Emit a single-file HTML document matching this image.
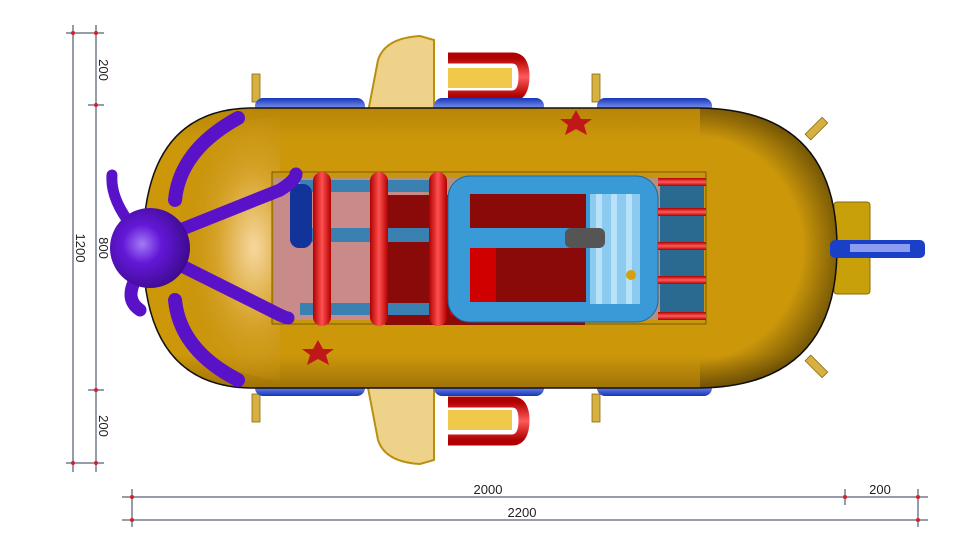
<!DOCTYPE html>
<html><head><meta charset="utf-8"><style>
html,body{margin:0;padding:0;background:#fff;}
svg{display:block;font-family:"Liberation Sans",sans-serif;}
</style></head><body>
<svg width="970" height="546" viewBox="0 0 970 546" xmlns="http://www.w3.org/2000/svg">
<defs>
<linearGradient id="gold" x1="0" y1="0" x2="0" y2="1">
<stop offset="0" stop-color="#b88508"/><stop offset="0.12" stop-color="#cc980a"/><stop offset="0.88" stop-color="#cc980a"/><stop offset="1" stop-color="#a07208"/></linearGradient>
<radialGradient id="rightShade" gradientUnits="userSpaceOnUse" cx="690" cy="248" r="150"><stop offset="0.75" stop-color="#000" stop-opacity="0"/><stop offset="1" stop-color="#000" stop-opacity="0.4"/></radialGradient>
<radialGradient id="goldL" cx="0.8" cy="0.5" r="0.6"><stop offset="0" stop-color="#f6d7a0"/><stop offset="0.45" stop-color="#d8a52e"/><stop offset="1" stop-color="#c08a08" stop-opacity="0"/></radialGradient>
<linearGradient id="blueT" x1="0" y1="0" x2="0" y2="1"><stop offset="0" stop-color="#1436b8"/><stop offset="0.5" stop-color="#7a8ff0"/><stop offset="1" stop-color="#1436b8"/></linearGradient>
<linearGradient id="red" x1="0" y1="0" x2="1" y2="0"><stop offset="0" stop-color="#b00000"/><stop offset="0.5" stop-color="#ff5050"/><stop offset="1" stop-color="#b00000"/></linearGradient>
<linearGradient id="redH" x1="0" y1="0" x2="0" y2="1"><stop offset="0" stop-color="#b00000"/><stop offset="0.5" stop-color="#ff5a5a"/><stop offset="1" stop-color="#b00000"/></linearGradient>
<radialGradient id="purp" cx="0.4" cy="0.45" r="0.6"><stop offset="0" stop-color="#a27bf5"/><stop offset="0.4" stop-color="#6418d8"/><stop offset="1" stop-color="#3e0a90"/></radialGradient>
</defs>
<g stroke="#2d3a55" stroke-width="1">
<line x1="73" y1="25" x2="73" y2="472"/><line x1="96" y1="25" x2="96" y2="472"/>
<line x1="66" y1="33" x2="104" y2="33"/><line x1="88" y1="105" x2="104" y2="105"/>
<line x1="88" y1="390" x2="104" y2="390"/><line x1="66" y1="463" x2="104" y2="463"/>
<line x1="122" y1="497" x2="928" y2="497"/><line x1="122" y1="520" x2="928" y2="520"/>
<line x1="132" y1="489" x2="132" y2="527"/><line x1="845" y1="489" x2="845" y2="505"/><line x1="918" y1="489" x2="918" y2="527"/>
</g>
<g fill="#d0202a">
<circle cx="73" cy="33" r="2"/><circle cx="96" cy="33" r="2"/><circle cx="96" cy="105" r="2"/><circle cx="96" cy="390" r="2"/><circle cx="73" cy="463" r="2"/><circle cx="96" cy="463" r="2"/>
<circle cx="132" cy="497" r="2"/><circle cx="845" cy="497" r="2"/><circle cx="918" cy="497" r="2"/><circle cx="132" cy="520" r="2"/><circle cx="918" cy="520" r="2"/>
</g>
<g font-size="13" fill="#222">
<text transform="translate(99,70) rotate(90)" text-anchor="middle">200</text>
<text transform="translate(99,248) rotate(90)" text-anchor="middle">800</text>
<text transform="translate(76,248) rotate(90)" text-anchor="middle">1200</text>
<text transform="translate(99,426) rotate(90)" text-anchor="middle">200</text>
<text x="488" y="494" text-anchor="middle">2000</text>
<text x="880" y="494" text-anchor="middle">200</text>
<text x="522" y="517" text-anchor="middle">2200</text>
</g>
<g fill="#d6b040" stroke="#8a6a10" stroke-width="0.8">
<rect x="252" y="74" width="8" height="28"/><rect x="592" y="74" width="8" height="28"/>
<rect x="252" y="394" width="8" height="28"/><rect x="592" y="394" width="8" height="28"/>
<g transform="translate(815,130) rotate(45)"><rect x="-4" y="-14" width="8" height="24"/></g>
<g transform="translate(815,365) rotate(-45)"><rect x="-4" y="-10" width="8" height="24"/></g>
</g>
<path d="M365,128 L378,60 Q385,38 420,36 L434,40 L434,128 Z" fill="#efd28a" stroke="#b8900e" stroke-width="2"/>
<path d="M365,372 L378,440 Q385,462 420,464 L434,460 L434,372 Z" fill="#efd28a" stroke="#b8900e" stroke-width="2"/>
<g fill="none" stroke="url(#redH)" stroke-width="11">
<path d="M448,58 L512,58 Q524,58 524,76 Q524,96 512,96 L448,96"/>
<path d="M448,402 L512,402 Q524,402 524,420 Q524,440 512,440 L448,440"/>
</g>
<rect x="448" y="68" width="64" height="20" fill="#f0c84a"/>
<rect x="448" y="410" width="64" height="20" fill="#f0c84a"/>
<g fill="url(#blueT)">
<rect x="255" y="98" width="110" height="20" rx="8"/><rect x="434" y="98" width="110" height="20" rx="8"/><rect x="597" y="98" width="115" height="20" rx="8"/>
<rect x="255" y="376" width="110" height="20" rx="8"/><rect x="434" y="376" width="110" height="20" rx="8"/><rect x="597" y="376" width="115" height="20" rx="8"/>
</g>
<rect x="834" y="202" width="36" height="92" rx="3" fill="#c8a00a" stroke="#8a6a05"/>
<path d="M250,108 L700,108 Q837,110 837,248 Q837,386 700,388 L250,388 Q143,386 143,248 Q143,110 250,108 Z" fill="url(#gold)" stroke="#111" stroke-width="1.5"/>
<path d="M700,108 Q837,110 837,248 Q837,386 700,388 Z" fill="url(#rightShade)"/>
<path d="M280,115 Q150,135 150,248 Q150,361 280,381 Z" fill="url(#goldL)"/>
<rect x="830" y="240" width="95" height="18" rx="5" fill="#1a40c8"/>
<rect x="850" y="244" width="60" height="8" fill="#8b9cf2"/>
<rect x="272" y="172" width="434" height="152" fill="#c8960a" stroke="#7a5a05"/>
<rect x="274" y="178" width="430" height="142" fill="#b78f7e"/>
<rect x="274" y="182" width="150" height="138" fill="#c98a8a"/>
<rect x="385" y="195" width="200" height="130" fill="#8a0a0a"/>
<rect x="450" y="250" width="45" height="65" fill="#d00000"/>
<rect x="300" y="180" width="130" height="12" fill="#3a80b0"/>
<rect x="300" y="228" width="130" height="14" fill="#3a80b0"/>
<rect x="300" y="303" width="130" height="12" fill="#3a80b0"/>
<rect x="448" y="176" width="210" height="146" rx="22" fill="#3a9ad8" stroke="#1b6aa0"/>
<rect x="470" y="194" width="116" height="108" fill="#8a0a0a"/>
<rect x="470" y="248" width="26" height="54" fill="#d00000"/>
<rect x="470" y="228" width="116" height="20" fill="#3a9ad8"/>
<rect x="590" y="194" width="50" height="110" fill="#8ccaf0"/>
<g fill="#b8e2fa"><rect x="596" y="194" width="6" height="110"/><rect x="611" y="194" width="6" height="110"/><rect x="626" y="194" width="6" height="110"/></g>
<rect x="565" y="228" width="40" height="20" rx="6" fill="#555"/>
<circle cx="631" cy="275" r="5" fill="#d4a010"/>
<rect x="660" y="180" width="44" height="140" fill="#2a6a90"/>
<g fill="url(#redH)"><rect x="658" y="178" width="48" height="8"/><rect x="658" y="208" width="48" height="8"/><rect x="658" y="242" width="48" height="8"/><rect x="658" y="276" width="48" height="8"/><rect x="658" y="312" width="48" height="8"/></g>
<g fill="url(#red)"><rect x="313" y="172" width="18" height="154" rx="9"/><rect x="370" y="172" width="18" height="154" rx="9"/><rect x="429" y="172" width="18" height="154" rx="9"/></g>
<rect x="290" y="184" width="22" height="64" rx="9" fill="#12339a"/>
<polygon points="576,110 581,119 592,119 584,125 587,135 576,129 565,135 568,125 560,119 571,119" fill="#c01818"/>
<polygon points="318,340 323,349 334,349 326,355 329,365 318,359 307,365 310,355 302,349 313,349" fill="#c01818"/>
<g fill="none" stroke="#5a12c8" stroke-linecap="round">
<path d="M238,118 Q180,150 175,200" stroke-width="14"/>
<path d="M238,380 Q180,350 175,300" stroke-width="14"/>
<path d="M180,230 L280,190 Q296,180 296,174" stroke-width="13"/>
<path d="M180,265 L270,310 Q285,318 288,318" stroke-width="13"/>
<path d="M135,230 Q110,200 112,175" stroke-width="11"/>
<path d="M135,280 Q125,300 140,310" stroke-width="13"/>
</g>
<circle cx="150" cy="248" r="40" fill="url(#purp)"/>
</svg>
</body></html>
